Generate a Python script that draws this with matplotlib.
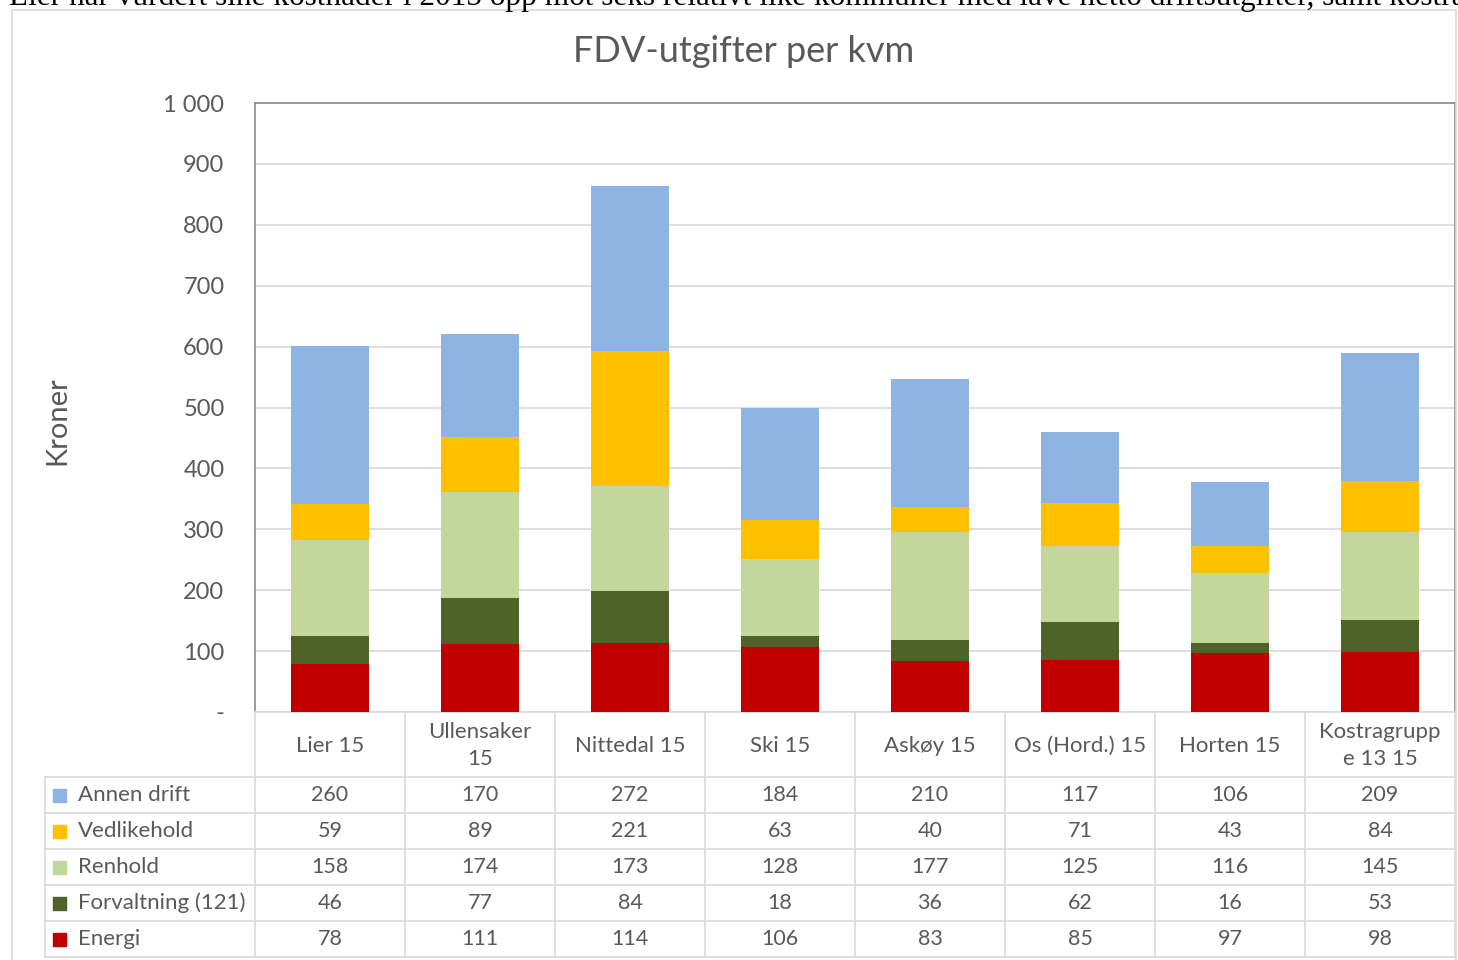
import matplotlib.pyplot as plt
from matplotlib.patches import Rectangle
from matplotlib.lines import Line2D

# data
categories = ["Lier 15", "Ullensaker\n15", "Nittedal 15", "Ski 15", "Askøy 15",
              "Os (Hord.) 15", "Horten 15", "Kostragrupp\ne 13 15"]
series = ["Annen drift", "Vedlikehold", "Renhold", "Forvaltning (121)", "Energi"]
annen_drift = [260, 170, 272, 184, 210, 117, 106, 209]
vedlikehold = [59, 89, 221, 63, 40, 71, 43, 84]
renhold = [158, 174, 173, 128, 177, 125, 116, 145]
forvaltning = [46, 77, 84, 18, 36, 62, 16, 53]
energi = [78, 111, 114, 106, 83, 85, 97, 98]
values = [annen_drift, vedlikehold, renhold, forvaltning, energi]
colors = ["#8EB4E3", "#FFC000", "#C3D69B", "#4F6228", "#C00000"]
y_ticks = [0, 100, 200, 300, 400, 500, 600, 700, 800, 900, 1000]
y_ticklabels = ["-", "100", "200", "300", "400", "500", "600", "700", "800", "900", "1 000"]

TXT = "#595959"
GRID = "#D9D9D9"
plt.rcParams['font.family'] = ['Lato', 'DejaVu Sans']

W, H = 1458, 960
fig = plt.figure(figsize=(W / 100, H / 100), dpi=100)


def fx(px):
    return px / W


def fy(py):
    return 1 - py / H


# outer chart border
fig.add_artist(Rectangle((fx(12), fy(1000)), fx(1444), (1000 - 10) / H,
                         transform=fig.transFigure, fill=False, ec=GRID, lw=1.2))

# cut-off text line above the chart (the reference shows only its lower half)
fig.text(fx(9), fy(5), "Lier har vurdert sine kostnader i 2015 opp mot seks relativt like "
         "kommuner med lave netto driftsutgifter, samt kostragruppe 13",
         family="Liberation Serif", fontsize=22.5, color="black", va="baseline", ha="left")

# main plot
x0, x1, ytop, ybot = 255, 1455, 103, 712
ax = fig.add_axes([fx(x0), fy(ybot), fx(x1 - x0), (ybot - ytop) / H])
n = len(categories)
pos = list(range(n))
bottom = [0] * n
for name, vals, c in reversed(list(zip(series, values, colors))):
    ax.bar(pos, vals, width=0.515, bottom=bottom, color=c, zorder=3)
    bottom = [b + v for b, v in zip(bottom, vals)]

ax.set_xlim(-0.5, n - 0.5)
ax.set_ylim(0, 1000)
ax.set_yticks(y_ticks)
ax.set_yticklabels(y_ticklabels, color=TXT, fontsize=17)
ax.tick_params(axis="y", length=0, pad=33)
ax.set_xticks([])
ax.grid(axis="y", color=GRID, lw=1.2, zorder=0)
for s in ["left", "top", "right"]:
    ax.spines[s].set_color("#8C8C8C")
    ax.spines[s].set_linewidth(1.2)
ax.spines["bottom"].set_color(GRID)
ax.spines["bottom"].set_linewidth(1.2)
ax.tick_params(axis="y", pad=22)

fig.text(fx(57), fy(421), "Kroner", rotation=90, fontsize=21, color=TXT,
         ha="center", va="center")
fig.text(fx(744), fy(52), "FDV-utgifter per kvm", fontsize=26, color=TXT,
         ha="center", va="center")

# data table
col_w = 150
leg_left = 45
head_h = 65
row_h = 36
tab_top = ybot
row_top = tab_top + head_h
tab_bot = row_top + row_h * len(series)


def hline(y, xa, xb):
    fig.add_artist(Line2D([fx(xa), fx(xb)], [fy(y), fy(y)], transform=fig.transFigure,
                          color=GRID, lw=1.2))


def vline(x, ya, yb):
    fig.add_artist(Line2D([fx(x), fx(x)], [fy(ya), fy(yb)], transform=fig.transFigure,
                          color=GRID, lw=1.2))


for i in range(n + 1):
    vline(x0 + i * col_w, tab_top, tab_bot)
vline(leg_left, row_top, tab_bot)
for j in range(len(series) + 1):
    hline(row_top + j * row_h, leg_left, x1)

for i, cat in enumerate(categories):
    fig.text(fx(x0 + (i + 0.5) * col_w), fy(tab_top + head_h / 2 + 1), cat, fontsize=16,
             color=TXT, ha="center", va="center", linespacing=1.4)

for j, (name, vals, c) in enumerate(zip(series, values, colors)):
    yc = row_top + (j + 0.5) * row_h
    fig.add_artist(Rectangle((fx(53), fy(yc + 6.5)), fx(13), 13 / H,
                             transform=fig.transFigure, color=c))
    fig.text(fx(78), fy(yc), name, fontsize=16, color=TXT, ha="left", va="center")
    for i, v in enumerate(vals):
        fig.text(fx(x0 + (i + 0.5) * col_w), fy(yc), str(v), fontsize=15.5,
                 color=TXT, ha="center", va="center")

fig.savefig("out.png", dpi=100)
